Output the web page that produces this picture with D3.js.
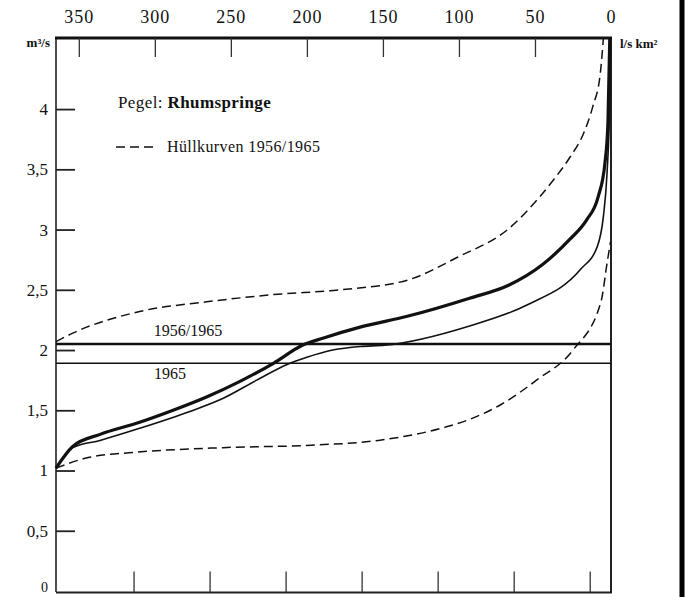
<!DOCTYPE html>
<html>
<head>
<meta charset="utf-8">
<script src="https://cdn.jsdelivr.net/npm/d3@7"></script>
<style>
  html, body { margin: 0; padding: 0; background: #fff; }
  svg { display: block; }
  text { font-family: "Liberation Serif", "DejaVu Serif", serif; fill: #111; }
</style>
</head>
<body>
<svg id="chart" width="692" height="597"></svg>
<script>
// Dauerlinien der Abflüsse, Pegel Rhumspringe
// Each point: [Tage, m³/s]

const topTicks = [350, 300, 250, 200, 150, 100, 50, 0];
const bottomTicks = [314, 264, 214, 164, 114, 64, 14];
const yTicks = [0, 0.5, 1, 1.5, 2, 2.5, 3, 3.5, 4];

// Hüllkurven 1956/1965 (obere und untere)
const upperEnvelope = [
  [365, 2.07], [354, 2.14], [310, 2.32], [266, 2.40], [222, 2.46], [178, 2.50],
  [134, 2.58], [101, 2.77], [67, 3.01], [47, 3.27], [38, 3.41], [27, 3.60],
  [18, 3.80], [12, 4.02], [7, 4.30], [5, 4.59]
];
const lowerEnvelope = [
  [365, 1.02], [343, 1.11], [314, 1.15], [255, 1.19], [197, 1.21], [153, 1.25],
  [109, 1.36], [94, 1.42], [72, 1.55], [49, 1.75], [25, 2.00], [6.6, 2.40],
  [2.6, 2.72], [0.3, 2.90]
];
// Dauerlinie 1956/1965
const curve5665 = [
  [365, 1.02], [354, 1.20], [336, 1.30], [310, 1.40], [288, 1.50], [266, 1.61],
  [244, 1.74], [222, 1.89], [203, 2.04], [189, 2.10], [165, 2.19], [134, 2.28],
  [93, 2.43], [67, 2.54], [45, 2.71], [27, 2.92], [16, 3.08], [8.5, 3.27],
  [4, 3.55], [2, 3.89], [0.8, 4.59]
];
// Dauerlinie 1965
const curve65 = [
  [365, 1.02], [354, 1.19], [336, 1.25], [310, 1.35], [277, 1.49], [255, 1.60],
  [233, 1.75], [213, 1.88], [200, 1.94], [183, 2.00], [165, 2.03], [149, 2.04],
  [93, 2.20], [56, 2.37], [20, 2.67], [9, 2.86], [5, 3.11], [2.6, 3.47],
  [0.8, 4.08], [0.3, 4.59]
];
// Mittelwerte (MQ)
const meanLines = [
  { label: "1956/1965", value: 2.05, width: 2.6 },
  { label: "1965", value: 1.89, width: 1.4 }
];

const svg = d3.select("#chart");
const plotLeft = 56, plotRight = 611, plotTop = 38, plotBottom = 591;

const x = d3.scaleLinear().domain([365, 0]).range([plotLeft, plotRight]);
const y = d3.scaleLinear().domain([0, 4.59]).range([plotBottom, plotTop]);

const locale = d3.formatLocale({ decimal: ",", thousands: ".", grouping: [3], currency: ["", " €"] });
const fmt = locale.format("~g");

// Rahmen
svg.append("line").attr("x1", plotLeft).attr("x2", plotLeft).attr("y1", plotTop).attr("y2", plotBottom + 1)
  .attr("stroke", "#222").attr("stroke-width", 1.6);
svg.append("line").attr("x1", plotRight).attr("x2", plotRight).attr("y1", plotTop).attr("y2", plotBottom + 2)
  .attr("stroke", "#222").attr("stroke-width", 2);
svg.append("line").attr("x1", plotLeft - 1).attr("x2", plotRight + 1).attr("y1", plotTop).attr("y2", plotTop)
  .attr("stroke", "#111").attr("stroke-width", 3);
svg.append("line").attr("x1", plotLeft).attr("x2", plotRight + 1).attr("y1", plotBottom + 1.5).attr("y2", plotBottom + 1.5)
  .attr("stroke", "#222").attr("stroke-width", 2);

// Seitenrand
svg.append("line").attr("x1", 682).attr("x2", 682).attr("y1", 0).attr("y2", 597)
  .attr("stroke", "#000").attr("stroke-width", 5);

// Achse oben
const axTop = svg.append("g").attr("transform", `translate(0,${plotTop})`)
  .call(d3.axisTop(x).tickValues(topTicks).tickSize(-19).tickPadding(15).tickFormat(d3.format("d")));
axTop.select(".domain").remove();
axTop.selectAll(".tick line").attr("stroke", "#333").attr("stroke-width", 1.3)
  .attr("display", d => d === 0 ? "none" : null);
axTop.selectAll(".tick text").attr("font-size", 18).attr("letter-spacing", 1).attr("fill", "#111")
  .attr("font-family", "Liberation Serif, serif");

// Achse unten
const axBottom = svg.append("g").attr("transform", `translate(0,${plotBottom + 1.5})`)
  .call(d3.axisBottom(x).tickValues(bottomTicks).tickSize(-21).tickFormat(""));
axBottom.select(".domain").remove();
axBottom.selectAll(".tick line").attr("stroke", "#333").attr("stroke-width", 1.3);

// Achse links
const axLeft = svg.append("g").attr("transform", `translate(${plotLeft},0)`)
  .call(d3.axisLeft(y).tickValues(yTicks).tickSize(-19).tickPadding(8).tickFormat(fmt));
axLeft.select(".domain").remove();
axLeft.selectAll(".tick line").attr("stroke", "#222").attr("stroke-width", 1.8)
  .attr("display", d => d === 0 ? "none" : null);
axLeft.selectAll(".tick text").attr("font-size", 17).attr("fill", "#111")
  .attr("font-family", "Liberation Serif, serif");
axLeft.selectAll(".tick").filter(d => d === 0).select("text")
  .attr("font-size", 14).attr("dy", "0.05em");

// Einheiten
svg.append("text").attr("x", 50).attr("y", 47).attr("text-anchor", "end")
  .attr("font-size", 13).attr("font-weight", "bold").text("m³/s");
svg.append("text").attr("x", 620).attr("y", 48)
  .attr("font-size", 13).attr("font-weight", "bold").text("l/s km²");

// Mittelwertlinien
meanLines.forEach(m => {
  svg.append("line").attr("x1", plotLeft).attr("x2", plotRight).attr("y1", y(m.value)).attr("y2", y(m.value))
    .attr("stroke", "#111").attr("stroke-width", m.width);
});
svg.append("text").attr("x", 188).attr("y", y(meanLines[0].value) - 8).attr("text-anchor", "middle")
  .attr("font-size", 16).text(meanLines[0].label);
svg.append("text").attr("x", 170).attr("y", y(meanLines[1].value) + 16).attr("text-anchor", "middle")
  .attr("font-size", 16).text(meanLines[1].label);

// Kurven
const line = d3.line().x(d => x(d[0])).y(d => y(d[1])).curve(d3.curveMonotoneX);
const g = svg.append("g").attr("fill", "none").attr("stroke", "#111");
g.append("path").datum(upperEnvelope).attr("d", line).attr("stroke-width", 1.5).attr("stroke-dasharray", "9,5");
g.append("path").datum(lowerEnvelope).attr("d", line).attr("stroke-width", 1.5).attr("stroke-dasharray", "9,5");
g.append("path").datum(curve65).attr("d", line).attr("stroke-width", 1.6);
g.append("path").datum(curve5665).attr("d", line).attr("stroke-width", 3.2);

// Legende
const title = svg.append("text").attr("x", 118).attr("y", 108).attr("font-size", 17).attr("letter-spacing", 0.4);
title.append("tspan").text("Pegel: ");
title.append("tspan").attr("font-weight", "bold").text("Rhumspringe");

svg.append("line").attr("x1", 116).attr("x2", 157).attr("y1", 147).attr("y2", 147)
  .attr("stroke", "#111").attr("stroke-width", 1.5).attr("stroke-dasharray", "9,5");
svg.append("text").attr("x", 167).attr("y", 152).attr("font-size", 16).attr("letter-spacing", 0.4)
  .text("Hüllkurven 1956/1965");
</script>
</body>
</html>
